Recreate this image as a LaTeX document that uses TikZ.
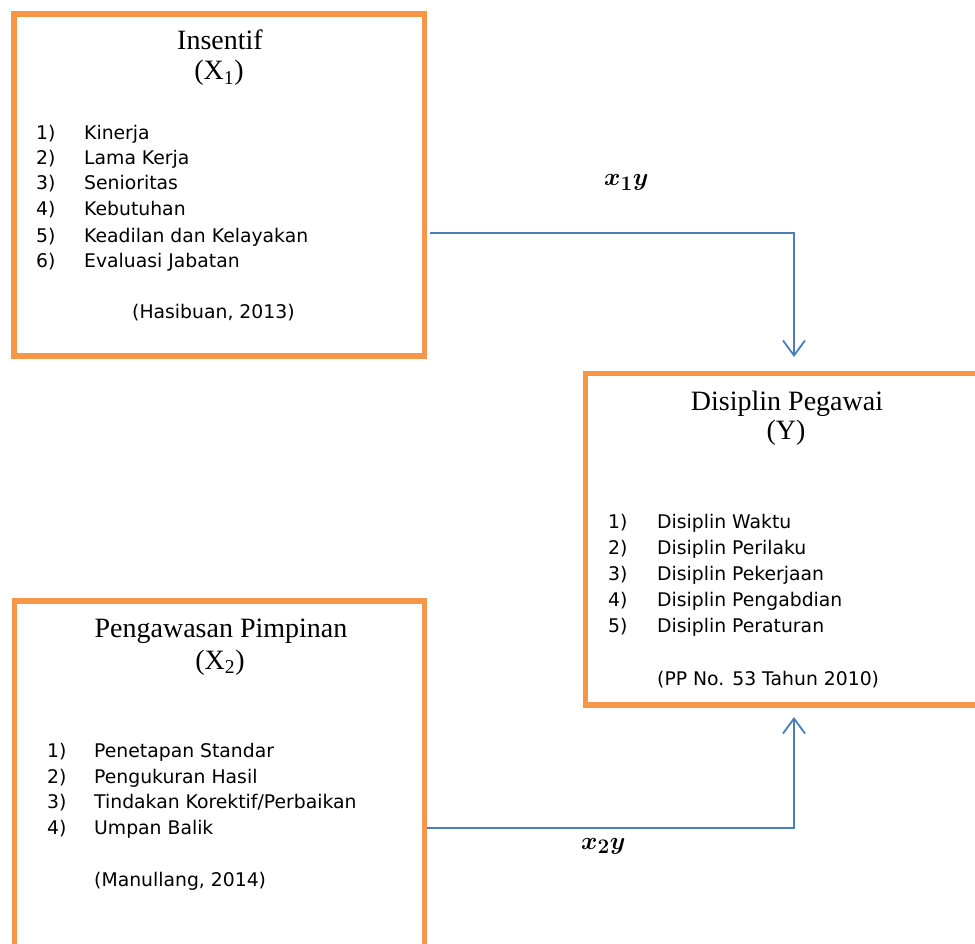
\documentclass[tikz,border=0pt]{standalone}
\usepackage{fontspec}
\usetikzlibrary{arrows.meta}
\newfontfamily\bodyfont{DejaVu Sans}
\newfontfamily\titlefont{Liberation Serif}
\definecolor{boxorange}{HTML}{F79646}
\definecolor{lineblue}{HTML}{4A7EBB}
\tikzset{
  framebox/.style={draw=boxorange, line width=5.5pt, fill=none, inner sep=0pt, outer sep=0pt},
  titletext/.style={anchor=base, inner sep=0pt, font=\titlefont\fontsize{28}{30}\selectfont},
  itemtext/.style={anchor=base west, inner sep=0pt, font=\bodyfont\fontsize{18.8}{22}\selectfont},
  pathlabel/.style={anchor=base west, inner sep=0pt, font=\fontsize{30}{34}\selectfont\boldmath},
  conn/.style={draw=lineblue, line width=1.8pt, -{Straight Barb[length=15pt,width=22pt,line width=1.8pt]}}
}
\begin{document}
\begin{tikzpicture}[x=1pt,y=-1pt]
\useasboundingbox (0,0) rectangle (975,944);
% boxes
\node[framebox, minimum width=410.5pt, minimum height=342pt, anchor=north west] (bx1) at (14,14) {};
\node[framebox, minimum width=403.5pt, minimum height=331.5pt, anchor=north west] (bxy) at (585.5,373.5) {};
\node[framebox, minimum width=410pt, minimum height=359pt, anchor=north west] (bx2) at (14.5,601) {};
% box 1 text
\node[titletext] (t1a) at (220,50) {Insentif};
\node[titletext] (t1b) at (219,80) {(X\textsubscript{1})};
\node[itemtext] (n11) at (36,140) {1)};
\node[itemtext] (i11) at (84,140) {Kinerja};
\node[itemtext] (n12) at (36,165) {2)};
\node[itemtext] (i12) at (84,165) {Lama Kerja};
\node[itemtext] (n13) at (36,190) {3)};
\node[itemtext] (i13) at (84,190) {Senioritas};
\node[itemtext] (n14) at (36,216) {4)};
\node[itemtext] (i14) at (84,216) {Kebutuhan};
\node[itemtext] (n15) at (36,243) {5)};
\node[itemtext] (i15) at (84,243) {Keadilan dan Kelayakan};
\node[itemtext] (n16) at (36,268) {6)};
\node[itemtext] (i16) at (84,268) {Evaluasi Jabatan};
\node[itemtext] (src1) at (132,318) {(Hasibuan, 2013)};
% box Y text
\node[titletext] (tya) at (787,410) {Disiplin Pegawai};
\node[titletext] (tyb) at (786,439) {(Y)};
\node[itemtext] (ny1) at (608,528) {1)};
\node[itemtext] (iy1) at (657,528) {Disiplin Waktu};
\node[itemtext] (ny2) at (608,554) {2)};
\node[itemtext] (iy2) at (657,554) {Disiplin Perilaku};
\node[itemtext] (ny3) at (608,580) {3)};
\node[itemtext] (iy3) at (657,580) {Disiplin Pekerjaan};
\node[itemtext] (ny4) at (608,606) {4)};
\node[itemtext] (iy4) at (657,606) {Disiplin Pengabdian};
\node[itemtext] (ny5) at (608,632) {5)};
\node[itemtext] (iy5) at (657,632) {Disiplin Peraturan};
\node[itemtext] (srcy) at (657,685) {(PP No. 53 Tahun 2010)};
% box 2 text
\node[titletext] (t2a) at (221,637) {Pengawasan Pimpinan};
\node[titletext] (t2b) at (220,669) {(X\textsubscript{2})};
\node[itemtext] (n21) at (47,757) {1)};
\node[itemtext] (i21) at (94,757) {Penetapan Standar};
\node[itemtext] (n22) at (47,783) {2)};
\node[itemtext] (i22) at (94,783) {Pengukuran Hasil};
\node[itemtext] (n23) at (47,808) {3)};
\node[itemtext] (i23) at (94,808) {Tindakan Korektif/Perbaikan};
\node[itemtext] (n24) at (47,834) {4)};
\node[itemtext] (i24) at (94,834) {Umpan Balik};
\node[itemtext] (src2) at (94,886) {(Manullang, 2014)};
% connectors
\coordinate (c1) at (794,233);
\coordinate (c2) at (794,828);
\draw[conn, shorten <=5.5pt, shorten >=16.5pt] (bx1.east |- c1) -| (bxy.north -| c1);
\draw[conn, shorten <=2.5pt, shorten >=12pt] (bx2.east |- c2) -| (bxy.south -| c2);
% labels
\node[pathlabel] (l1) at (604,186) {$x_1y$};
\node[pathlabel] (l2) at (581,849) {$x_2y$};
\end{tikzpicture}
\end{document}
